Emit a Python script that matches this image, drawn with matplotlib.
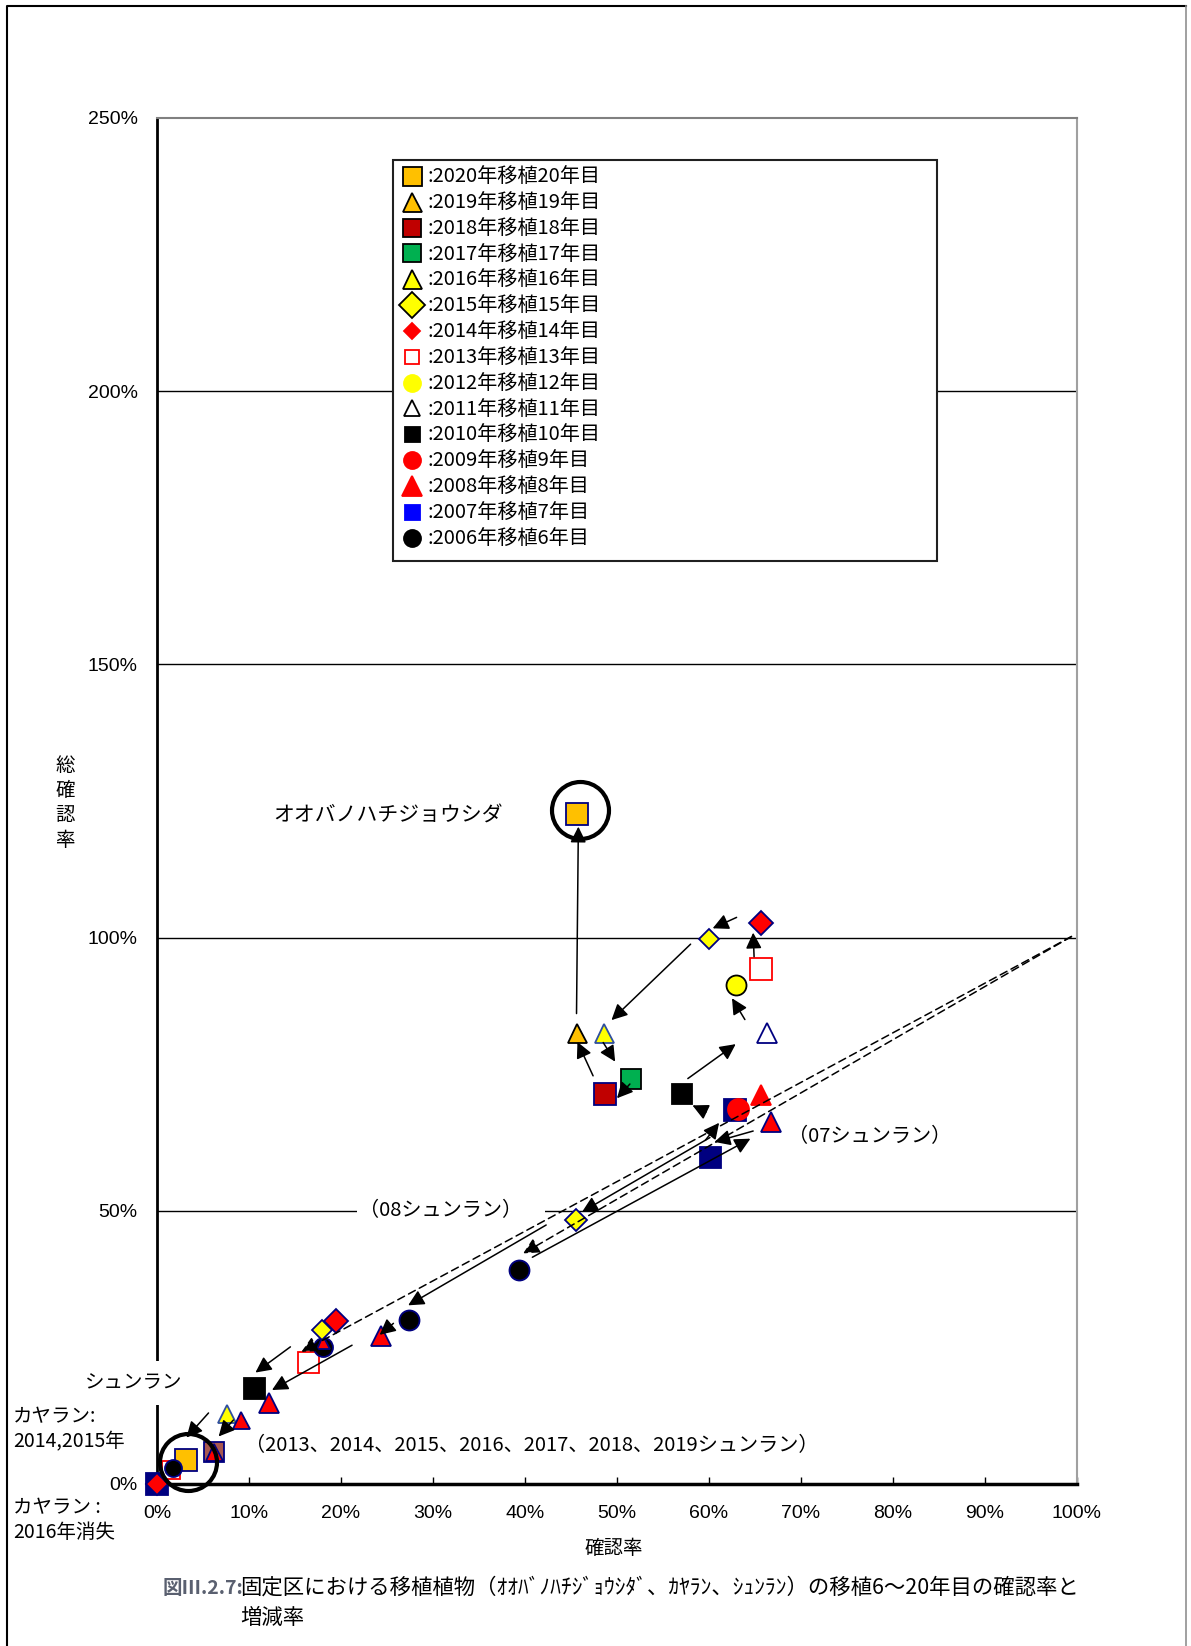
import matplotlib.pyplot as plt
from matplotlib.lines import Line2D
from matplotlib.patches import Rectangle

plt.rcParams['font.family'] = ['Noto Sans CJK JP', 'DejaVu Sans']
TICK_FONT = ['Liberation Sans Narrow', 'Liberation Sans', 'DejaVu Sans']

# -----------------------
# Data: x = 確認率 (%), y = 総確認率 (%)
# -----------------------
years = list(range(2006, 2021))

x_2006 = [39.4, 27.4, 18.0, 1.7]
y_2006 = [39.2, 30.0, 25.1, 3.0]
x_2007 = [62.8, 60.1, 0.0]
y_2007 = [68.5, 59.8, 0.0]
x_2008 = [65.7, 66.7, 24.3, 12.2, 9.1, 6.2, 18.0]
y_2008 = [71.2, 66.3, 27.0, 14.8, 11.7, 5.9, 25.9]
x_2009 = [63.1]
y_2009 = [68.6]
x_2010 = [57.1, 10.5]
y_2010 = [71.4, 17.6]
x_2011 = [66.3]
y_2011 = [82.5]
x_2012 = [62.9]
y_2012 = [91.3]
x_2013 = [65.7, 16.4, 1.5]
y_2013 = [94.2, 22.3, 2.5]
x_2014 = [65.7, 19.5, 0.0]
y_2014 = [102.7, 29.8, 0.0]
x_2015 = [60.0, 45.5, 17.9]
y_2015 = [99.7, 48.3, 28.2]
x_2016 = [48.6, 7.6]
y_2016 = [82.5, 12.9]
x_2017 = [51.5]
y_2017 = [74.1]
x_2018 = [48.7, 6.2]
y_2018 = [71.4, 5.9]
x_2019 = [45.7]
y_2019 = [82.5]
x_2020 = [45.7, 3.1]
y_2020 = [122.7, 4.4]

xs = {2006: x_2006, 2007: x_2007, 2008: x_2008, 2009: x_2009, 2010: x_2010,
      2011: x_2011, 2012: x_2012, 2013: x_2013, 2014: x_2014, 2015: x_2015,
      2016: x_2016, 2017: x_2017, 2018: x_2018, 2019: x_2019, 2020: x_2020}
ys = {2006: y_2006, 2007: y_2007, 2008: y_2008, 2009: y_2009, 2010: y_2010,
      2011: y_2011, 2012: y_2012, 2013: y_2013, 2014: y_2014, 2015: y_2015,
      2016: y_2016, 2017: y_2017, 2018: y_2018, 2019: y_2019, 2020: y_2020}

# arrows drawn on the chart (start -> end)
arrow_from = [(59.7, 68.1), (57.7, 74.2), (63.9, 85.0), (64.9, 96.5), (63.0, 103.7),
              (58.0, 98.8), (48.5, 80.8), (51.4, 73.2), (47.4, 74.7), (45.6, 86.1),
              (60.1, 63.4), (42.3, 47.4), (40.8, 41.5), (59.6, 62.9), (64.8, 64.6),
              (21.2, 25.4), (14.5, 25.1), (25.7, 29.4), (5.6, 13.0), (8.3, 11.7)]
arrow_to = [(58.2, 69.3), (62.9, 80.5), (62.5, 88.9), (64.8, 100.9), (60.4, 101.7),
            (49.4, 84.9), (49.8, 77.3), (50.0, 70.6), (45.7, 80.9), (45.8, 120.3),
            (46.2, 49.8), (27.3, 32.7), (64.5, 63.2), (61.1, 66.1), (60.6, 62.6),
            (12.5, 17.2), (10.7, 20.4), (24.2, 27.3), (3.2, 8.5), (6.7, 8.7)]
dashed_from = [(99.4, 100.2), (99.4, 100.2)]
dashed_to = [(15.7, 24.2), (39.8, 42.2)]

# highlight rings
ring_x = [46.0, 3.4]
ring_y = [123.3, 4.1]

xticks = list(range(0, 101, 10))
yticks = [0, 50, 100, 150, 200, 250]

# -----------------------
# Styles
# -----------------------
PT = 0.72  # px -> pt at dpi 100
NAVY = '#000080'
STYLE = {
    2006: ('o', 'black', NAVY),
    2007: ('s', NAVY, NAVY),
    2008: ('^', '#FF0000', NAVY),
    2009: ('o', '#FF0000', '#FF0000'),
    2010: ('s', 'black', 'black'),
    2011: ('^', 'white', NAVY),
    2012: ('o', '#FFFF00', 'black'),
    2013: ('s', 'white', '#FF0000'),
    2014: ('D', '#FF0000', NAVY),
    2015: ('D', '#FFFF00', NAVY),
    2016: ('^', '#FFFF00', '#2F4F9F'),
    2017: ('s', '#00B050', 'black'),
    2018: ('s', '#C00000', NAVY),
    2019: ('^', '#FFC000', 'black'),
    2020: ('s', '#FFC000', NAVY),
}
SIZE_PX = {
    2006: [20, 20, 19, 17], 2007: [22, 21, 22], 2008: [20, 20, 20, 20, 17, 17, 13],
    2009: [21], 2010: [20, 21], 2011: [20], 2012: [20], 2013: [22, 21, 18],
    2014: [24, 23, 22], 2015: [20, 21, 19], 2016: [19, 18], 2017: [20],
    2018: [22, 20], 2019: [19], 2020: [22, 22],
}
FACE_OVERRIDE = {(2018, 1): '#A8574F'}
EDGE_OVERRIDE = {(2008, 0): '#FF0000'}
ZORDER = {2007: 3.0, 2018: 3.1, 2013: 3.2, 2020: 3.3, 2016: 3.35, 2006: 3.4,
          2008: 3.5, 2009: 3.6, 2014: 3.7, 2015: 3.8}

LEG = {
    2020: ('s', '#FFC000', 'black', 19), 2019: ('^', '#FFC000', 'black', 19),
    2018: ('s', '#C00000', 'black', 18), 2017: ('s', '#00B050', 'black', 18),
    2016: ('^', '#FFFF00', 'black', 19), 2015: ('D', '#FFFF00', 'black', 26),
    2014: ('D', '#FF0000', '#FF0000', 16), 2013: ('s', 'white', '#FF0000', 14),
    2012: ('o', '#FFFF00', '#FFFF00', 17), 2011: ('^', 'white', 'black', 16),
    2010: ('s', 'black', 'black', 15), 2009: ('o', '#FF0000', '#FF0000', 17),
    2008: ('^', '#FF0000', '#FF0000', 20), 2007: ('s', '#0000FF', '#0000FF', 15),
    2006: ('o', 'black', 'black', 17),
}

W, H = 1191, 1646
fig = plt.figure(figsize=(W / 100, H / 100), dpi=100)
ax = fig.add_axes([157 / W, 1 - 1484 / H, 920 / W, 1366 / H])
ax.set_xlim(0, 100)
ax.set_ylim(0, 250)

# gridlines (inner only)
for v in yticks[1:-1]:
    ax.axhline(v, color='black', lw=1.0, zorder=1)

# points
for yr in years:
    mk, fc, ec = STYLE[yr]
    for i, (px, py) in enumerate(zip(xs[yr], ys[yr])):
        s = SIZE_PX[yr][i] * PT
        if mk == 'D':
            s = s / 1.414
        ax.plot(px, py, marker=mk, ls='none', markersize=s,
                mfc=FACE_OVERRIDE.get((yr, i), fc), mec=EDGE_OVERRIDE.get((yr, i), ec),
                mew=1.3, zorder=ZORDER.get(yr, 3.9), clip_on=False)

# rings
ax.plot(ring_x, ring_y, 'o', ls='none', markersize=57 * PT, mfc='none', mec='black',
        mew=3.0, zorder=5, clip_on=False)

# arrows
head = '-|>,head_length=0.6,head_width=0.3'
for (x0, y0), (x1, y1) in zip(arrow_from, arrow_to):
    ax.annotate('', xy=(x1, y1), xytext=(x0, y0),
                arrowprops=dict(arrowstyle=head, color='black', lw=1.1,
                                mutation_scale=16, shrinkA=0, shrinkB=0), zorder=6)
for (x0, y0), (x1, y1) in zip(dashed_from, dashed_to):
    ax.annotate('', xy=(x1, y1), xytext=(x0, y0),
                arrowprops=dict(arrowstyle=head, color='black', lw=1.1, ls=(0, (5, 3)),
                                mutation_scale=16, shrinkA=0, shrinkB=0), zorder=6)

# annotations
ax.text(12.6, 122.4, 'オオバノハチジョウシダ', fontsize=15, va='center', ha='left')
ax.text(68.6, 63.5, '（07シュンラン）', fontsize=14.5, va='center', ha='left')
ax.text(22.0, 50.1, '（08シュンラン）\u3000', fontsize=14.5, va='center', ha='left',
        bbox=dict(boxstyle='square,pad=0.1', fc='white', ec='none'), zorder=2)
ax.text(9.6, 7.0, '（2013、2014、2015、2016、2017、2018、2019シュンラン）',
        fontsize=14.5, va='center', ha='left')
ax.text(-2.5, 18.5, 'シュンラン', fontsize=14, va='center', ha='center',
        bbox=dict(boxstyle='square,pad=0.6', fc='white', ec='none'),
        zorder=10, clip_on=False)

# axes styling
ax.set_xticks(xticks)
ax.set_xticklabels([f'{v}%' for v in xticks], fontsize=14, family=TICK_FONT)
ax.set_yticks(yticks)
ax.set_yticklabels([f'{v}%' for v in yticks], fontsize=14, family=TICK_FONT)
ax.tick_params(axis='x', direction='in', length=5, width=1, pad=15, colors='black')
ax.tick_params(axis='y', length=0, pad=14)
ax.spines['left'].set_linewidth(2.0)
ax.spines['bottom'].set_linewidth(2.5)
ax.spines['top'].set_color('#808080')
ax.spines['top'].set_linewidth(1.5)
ax.spines['right'].set_color('#A0A0A0')
ax.spines['right'].set_linewidth(1.5)

fig.text(614 / W, 1 - 1549 / H, '確認率', fontsize=14, ha='center', va='center')
fig.text(65 / W, 1 - 803 / H, '総\n確\n認\n率', fontsize=14, ha='center', va='center',
         linespacing=1.27)

fig.text(13 / W, 1 - 1406 / H, 'カヤラン:\n2014,2015年', fontsize=14, va='top',
         linespacing=1.25)
fig.text(13 / W, 1 - 1497 / H, 'カヤラン :\n2016年消失', fontsize=14, va='top',
         linespacing=1.25)

# legend box + legend
fig.add_artist(Rectangle((393 / W, 1 - 561 / H), (937 - 393) / W, (561 - 160) / H,
                         transform=fig.transFigure, fc='white', ec='#202020', lw=1.5,
                         zorder=4))
handles, labels = [], []
for yr in years[::-1]:
    mk, fc, ec, sz = LEG[yr]
    s = sz * PT / (1.414 if mk == 'D' else 1)
    handles.append(Line2D([], [], marker=mk, ls='none', markersize=s, mfc=fc, mec=ec, mew=1.3))
    labels.append(f':{yr}年移植{yr - 2000}年目')
leg = fig.legend(handles, labels, loc='upper left', bbox_to_anchor=(402 / W, 1 - 167 / H),
                 frameon=False, fontsize=14.5, labelspacing=0.24, handlelength=1.0,
                 handletextpad=0.25, borderpad=0, borderaxespad=0)
leg.set_zorder(5)

# outer border (open at the bottom)
fig.add_artist(Line2D([7 / W, 7 / W, 1186 / W], [0, 1 - 6 / H, 1 - 6 / H],
                      transform=fig.transFigure, color='black', lw=1.5))
fig.add_artist(Line2D([1186 / W, 1186 / W], [1 - 6 / H, 0],
                      transform=fig.transFigure, color='#909090', lw=1.2))

# caption
fig.text(163 / W, 1 - 1588 / H, '図Ⅲ.2.7:', fontsize=14, color='#5A6070',
         fontweight='bold', va='center')
fig.text(240 / W, 1 - 1588 / H,
         '固定区における移植植物（ｵｵﾊﾞﾉﾊﾁｼﾞｮｳｼﾀﾞ、ｶﾔﾗﾝ、ｼｭﾝﾗﾝ）の移植6～20年目の確認率と',
         fontsize=15.4, va='center')
fig.text(240 / W, 1 - 1618 / H, '増減率', fontsize=15.4, va='center')

fig.savefig('out.png', dpi=100)
